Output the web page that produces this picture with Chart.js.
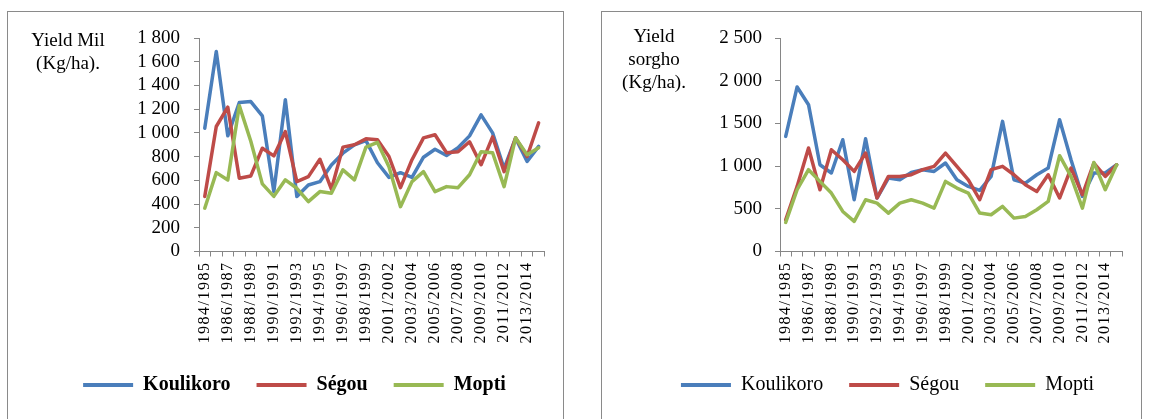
<!DOCTYPE html>
<html><head><meta charset="utf-8">
<script src="https://cdn.jsdelivr.net/npm/chart.js@4.4.1/dist/chart.umd.min.js"></script>
<style>
html,body{margin:0;padding:0;background:#fff;width:1150px;height:419px;overflow:hidden;}
.panel{position:absolute;border:1px solid #8a8a8a;box-sizing:border-box;background:#fff}
.wrap{position:absolute;left:0;top:0;}
.ytitle{position:absolute;font-family:"Liberation Serif",serif;font-size:19px;line-height:23px;text-align:center;color:#000;white-space:nowrap}
</style></head>
<body>
<div class="panel" style="left:7px;top:11px;width:557px;height:420px">
  <div class="wrap" style="width:555px;height:400px"><canvas id="c1"></canvas></div>
  <div class="ytitle" style="left:0;top:16px;width:120px">Yield Mil<br>(Kg/ha).</div>
</div>
<div class="panel" style="left:601px;top:11px;width:541px;height:420px">
  <div class="wrap" style="width:539px;height:400px"><canvas id="c2"></canvas></div>
  <div class="ytitle" style="left:0;top:12px;width:104px">Yield<br>sorgho<br>(Kg/ha).</div>
</div>
<script>
const categories = ['1984/1985','1985/1986','1986/1987','1987/1988','1988/1989','1989/1990','1990/1991','1991/1992','1992/1993','1993/1994','1994/1995','1995/1996','1996/1997','1997/1998','1998/1999','1999/2000','2001/2002','2002/2003','2003/2004','2004/2005','2005/2006','2006/2007','2007/2008','2008/2009','2009/2010','2010/2011','2011/2012','2012/2013','2013/2014','2014/2015'];
const seriesNames = ['Koulikoro','Ségou','Mopti'];
const seriesColors = ['#4A7EBB','#BE4B48','#98B954'];

const milKoulikoro = [1040,1687,975,1256,1264,1144,505,1279,463,561,589,730,829,899,935,748,625,664,625,795,862,810,875,975,1152,1000,700,955,759,886];
const milSegou     = [463,1054,1217,618,637,871,806,1011,589,631,778,525,880,900,950,942,801,538,774,958,984,833,841,925,731,967,673,958,801,1085];
const milMopti     = [365,665,603,1230,930,570,465,604,533,420,505,491,688,604,880,920,715,378,589,673,505,547,538,647,841,833,547,958,816,875];

const sorghoKoulikoro = [1348,1927,1719,1016,919,1309,606,1320,626,860,840,926,958,938,1036,840,762,715,879,1524,840,801,899,977,1543,1075,645,919,919,1016];
const sorghoSegou     = [372,762,1212,723,1192,1075,938,1153,626,879,879,899,958,997,1153,997,840,606,958,997,899,782,703,899,626,977,664,1036,879,1016];
const sorghoMopti     = [340,723,958,821,684,469,352,606,567,450,567,606,567,508,821,743,684,450,430,528,391,411,489,586,1122,879,508,1043,723,1016];

const milTicks = {min:0, max:1800, step:200};
const sorghoTicks = {min:0, max:2500, step:500};

function fmt(v){
  if (v >= 1000){ return Math.floor(v/1000) + ' ' + String(v % 1000).padStart(3,'0'); }
  return String(v);
}

const letterSpacingPlugin = {
  id:'xLetterSpacing',
  beforeDraw(chart){
    const s = chart.scales.x;
    if (s && !s.__ls){
      const orig = s.drawLabels.bind(s);
      s.drawLabels = function(area){ const c = this.ctx; c.save(); c.letterSpacing = '1.5px'; orig(area); c.restore(); };
      s.__ls = true;
    }
  }
};

function makeChart(id, values, tickCfg, opts){
  return new Chart(document.getElementById(id), {
    type:'line',
    data:{
      labels: categories,
      datasets: values.map((vals,i)=>({
        label: seriesNames[i], data: vals,
        borderColor: seriesColors[i], backgroundColor: seriesColors[i],
        borderWidth: 3.5, pointRadius: 0, pointHoverRadius: 0, tension: 0,
        borderJoinStyle: 'round', borderCapStyle: 'round', order: 2 - i, fill: false
      }))
    },
    options:{
      responsive:true, maintainAspectRatio:false, animation:false, devicePixelRatio:1,
      layout:{padding:{top:26, right:opts.padRight, bottom:7, left:opts.padLeft}},
      plugins:{
        tooltip:{enabled:false},
        legend:{
          display:true, position:'bottom', align:'center',
          labels:{
            boxWidth:50, boxHeight:4, padding:26, color:'#000',
            font:{family:'"Liberation Serif"', size:20, weight: opts.bold ? 'bold' : 'normal'},
            sort:(a,b)=>a.datasetIndex-b.datasetIndex,
            generateLabels:(chart)=>Chart.defaults.plugins.legend.labels.generateLabels(chart).map(l=>Object.assign(l,{lineWidth:0}))
          }
        }
      },
      scales:{
        x:{
          type:'category', offset:true,
          grid:{display:true, offset:true, drawOnChartArea:false, drawTicks:true, tickLength:5, color:'#868686'},
          border:{display:true, color:'#868686', width:1},
          ticks:{autoSkip:false, maxRotation:90, minRotation:90, padding:5, color:'#000',
            font:{family:'"Liberation Serif"', size:16},
            callback:(v,i)=> i % 2 === 0 ? categories[i] : ''},
          afterFit:(s)=>{ s.height = 97.5; }
        },
        y:{
          min:tickCfg.min, max:tickCfg.max,
          grid:{display:true, drawOnChartArea:false, drawTicks:true, tickLength:5, color:'#868686'},
          border:{display:true, color:'#868686', width:1},
          ticks:{stepSize:tickCfg.step, autoSkip:false, padding:opts.tickPad, color:'#000',
            font:{family:'"Liberation Serif"', size:19}, callback:(v)=>fmt(v)},
          afterFit:(s)=>{ s.width = opts.axisWidth; }
        }
      }
    },
    plugins:[letterSpacingPlugin]
  });
}

makeChart('c1', [milKoulikoro, milSegou, milMopti], milTicks, {padLeft:28, padRight:10, axisWidth:163, tickPad:14, bold:true});
makeChart('c2', [sorghoKoulikoro, sorghoSegou, sorghoMopti], sorghoTicks, {padLeft:40, padRight:8, axisWidth:138, tickPad:13, bold:false});
</script>
</body></html>
